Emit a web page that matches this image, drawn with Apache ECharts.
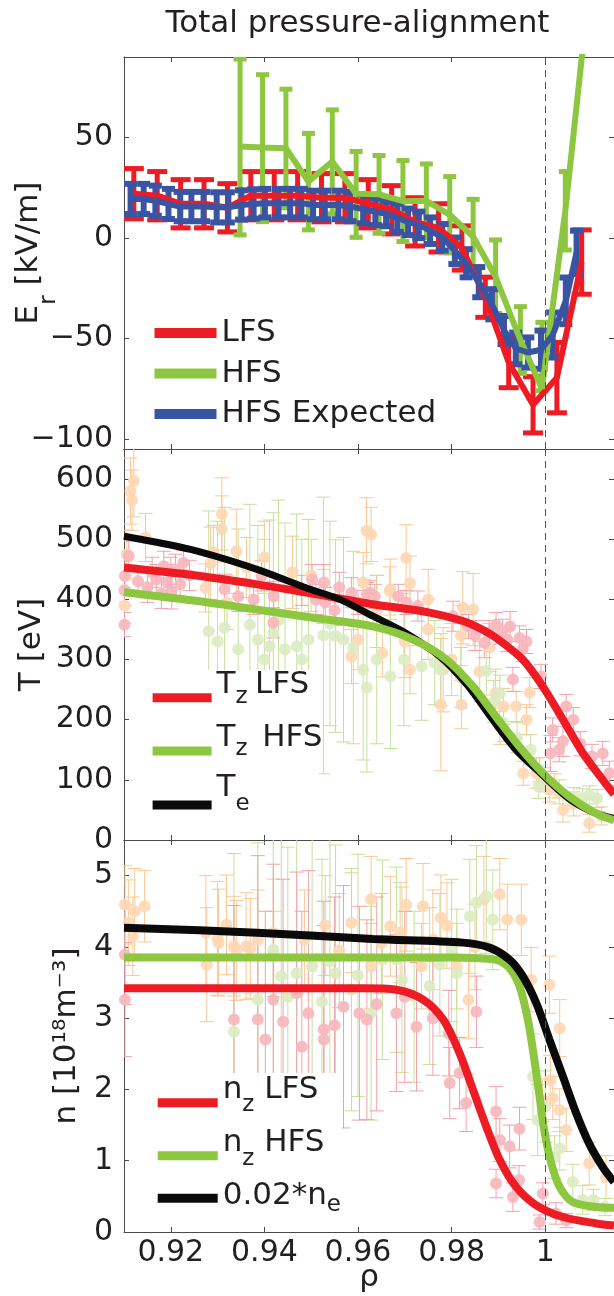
<!DOCTYPE html>
<html>
<head>
<meta charset="utf-8">
<script src="https://cdn.jsdelivr.net/npm/echarts@6/dist/echarts.min.js"></script>
<style>
  html, body { margin: 0; padding: 0; background: #fff; }
  #chart { width: 614px; height: 1296px; }
</style>
</head>
<body>
<div id="chart"></div>
<script>
// ---- axes ----
const rhoTicks = [0.92, 0.94, 0.96, 0.98, 1];
const erTicks = [-100, -50, 0, 50];
const tTicks = [0, 100, 200, 300, 400, 500, 600];
const nTicks = [0, 1, 2, 3, 4, 5];

// ---- panel 1: Er [kV/m] ----
const erLfsRho = [0.9121, 0.9171, 0.9221, 0.9271, 0.9321, 0.9371, 0.9421, 0.9471, 0.9522, 0.9572,
  0.9622, 0.9672, 0.9722, 0.9772, 0.9822, 0.9872, 0.9922, 0.9974, 1.0025, 1.0078];
const erLfs = [22, 21, 17, 17, 15, 21, 21, 21, 20, 20, 17, 14, 8, 5, -5, -29.5, -62, -83, -69.5, -12];
const erLfsErr = [12.5, 12, 12, 12, 12, 12, 12, 12, 12, 12, 12, 12, 12, 12, 11, 10, 12.5, 14, 17.5, 16];

const erHfsRho = [0.9348, 0.9396, 0.9446, 0.9494, 0.9545, 0.9596, 0.9645, 0.9696, 0.9746, 0.9796,
  0.9846, 0.9894, 0.9947, 0.9993, 1.0043, 1.0093];
const erHfs = [45.5, 45, 44.6, 28, 38, 22, 21.7, 18.3, 18.5, 11.5, 0.6, -19.3, -50.8, -75, 13.6, 122];
const erHfsLow = [1.5, 8.1, 15, 4, 12, 0.3, 2.3, -1.8, 0.2, -7.5, -18, -37.6, -67.4, -76, -6, 100];
const erHfsHigh = [89, 81.2, 74, 52, 63.7, 43, 41, 38.5, 36.8, 30.5, 19.2, -1, -34.2, -42, 33, 144];

const erExpRho = [0.9114, 0.9142, 0.9167, 0.9195, 0.9220, 0.9244, 0.9270, 0.9298, 0.9323, 0.9351,
  0.9377, 0.9401, 0.9430, 0.9455, 0.9479, 0.9504, 0.9529, 0.9558, 0.9583, 0.9611,
  0.9637, 0.9660, 0.9684, 0.9707, 0.9730, 0.9754, 0.9780, 0.9807, 0.9831, 0.9858,
  0.9886, 0.9912, 0.9937, 0.9963, 0.9991, 1.0016, 1.0044, 1.0067];
const erExp = [19.4, 19.4, 18.5, 16.9, 15.6, 15.6, 15.6, 15.2, 15.2, 16.4,
  16.9, 17.3, 17.3, 17.3, 17.3, 16.4, 16.4, 16.4, 15.6, 14.4,
  13, 12, 10, 8, 6.5, 3.6, 0.3, -6.4, -12.6, -22,
  -33, -45.8, -55, -57, -55.6, -48.3, -31.3, -7.2];
const erExpErr = [7.5, 7.5, 7.5, 7.5, 7.3, 7.3, 7.3, 7.5, 7.5, 7.3,
  7.3, 7.1, 7.1, 7.1, 7.1, 7.1, 7.1, 7.1, 7.3, 7.1,
  6.6, 6.2, 7, 6.6, 6.6, 6.6, 6.6, 6.6, 7, 7.5,
  7.5, 7, 7.9, 7.5, 9.5, 11.2, 11.6, 10.8];

// ---- panel 2: T [eV] fits ----
const tzLfsRho = [0.9100, 0.9250, 0.9384, 0.9500, 0.9632, 0.9753, 0.9824, 0.9860, 0.9895, 0.9952, 0.9995, 1.0038, 1.0080, 1.0123, 1.0147];
const tzLfs = [453, 440, 425, 410, 392, 378, 364, 352, 336, 300, 255, 200, 145, 100, 76];
const tzHfsRho = [0.9100, 0.9250, 0.9384, 0.9500, 0.9632, 0.9718, 0.9789, 0.9846, 0.9895, 0.9945, 0.9995, 1.0052, 1.0109, 1.0147];
const tzHfs = [412, 398, 383, 370, 355, 333, 300, 255, 205, 155, 111, 72, 44, 33];
const teRho = [0.9100, 0.9242, 0.9384, 0.9490, 0.9561, 0.9632, 0.9700, 0.9775, 0.9833, 0.9883, 0.9935, 0.9990, 1.0052, 1.0109, 1.0147];
const te = [505, 483, 450, 419, 400, 372, 345, 305, 258, 205, 152, 111, 68, 44, 36];

// panel 2 measurements [rho, T, err]
const tzLfsPts = [[0.9101, 358, 20], [0.9101, 415, 25], [0.9110, 472, 25], [0.9102, 439, 25], [0.9130, 430, 20],
  [0.9150, 420, 25], [0.9160, 445, 25], [0.9169, 433, 25], [0.9180, 410, 25], [0.9185, 455, 25],
  [0.9193, 428, 30], [0.9210, 450, 25], [0.9220, 425, 25], [0.9227, 461, 20], [0.9202, 414, 30],
  [0.9200, 445, 25], [0.9240, 440, 25], [0.9315, 417, 25], [0.9344, 405, 25], [0.9377, 400, 25],
  [0.9419, 361, 25], [0.9394, 439, 25], [0.9420, 405, 25], [0.9480, 415, 25], [0.9502, 433, 25],
  [0.9510, 400, 25], [0.9527, 428, 30], [0.9530, 395, 25], [0.9550, 382, 25], [0.9560, 420, 25],
  [0.9586, 411, 25], [0.9600, 395, 20], [0.9619, 408, 20], [0.9626, 411, 20], [0.9636, 405, 20],
  [0.9686, 405, 20], [0.9703, 395, 20], [0.9728, 389, 25], [0.9803, 372, 25], [0.9836, 355, 20],
  [0.9850, 340, 25], [0.9870, 328, 25], [0.9880, 345, 20], [0.9895, 358, 20], [0.9909, 347, 20],
  [0.9919, 333, 20], [0.9925, 355, 25], [0.9945, 336, 20], [0.9952, 317, 20], [0.9960, 330, 20],
  [0.9931, 267, 20], [0.9991, 272, 20], [1.0045, 222, 20], [1.0016, 183, 20], [1.0038, 164, 25],
  [1.0011, 144, 30], [1.0030, 150, 20], [1.0060, 200, 20], [1.0075, 160, 20], [1.0100, 139, 20],
  [1.0123, 144, 20], [1.0137, 111, 20]];
const tzHfsPts = [[0.9281, 347, 200], [0.9300, 330, 200], [0.9315, 353, 200], [0.9344, 317, 200], [0.9369, 358, 200],
  [0.9386, 333, 190], [0.9400, 300, 200], [0.9411, 322, 210], [0.9419, 344, 200], [0.9430, 365, 200],
  [0.9444, 317, 210], [0.9469, 322, 220], [0.9480, 300, 200], [0.9494, 333, 200], [0.9526, 340, 230],
  [0.9540, 360, 170], [0.9552, 339, 160], [0.9569, 333, 170], [0.9590, 320, 160], [0.9611, 283, 150],
  [0.9619, 253, 140], [0.9640, 300, 140], [0.9669, 272, 120], [0.9698, 300, 110], [0.9736, 289, 90],
  [0.9764, 295, 70], [0.9777, 283, 60], [0.9820, 270, 50], [0.9874, 281, 40], [0.9890, 230, 35],
  [0.9903, 244, 30], [0.9911, 194, 30], [0.9940, 170, 25], [0.9969, 150, 25], [0.9988, 117, 20],
  [0.9986, 89, 20], [1.0000, 100, 20], [1.0030, 80, 20], [1.0061, 72, 15], [1.0080, 70, 15],
  [1.0095, 75, 15], [1.0111, 69, 15]];
const tePts = [[0.9121, 597, 60], [0.9114, 580, 55], [0.9117, 565, 50], [0.9146, 503, 40], [0.9106, 475, 40],
  [0.9101, 390, 30], [0.9309, 542, 60], [0.9309, 517, 55], [0.9291, 478, 45], [0.9285, 460, 60],
  [0.9274, 419, 40], [0.9320, 395, 45], [0.9340, 480, 70], [0.9362, 453, 50], [0.9400, 470, 60],
  [0.9460, 445, 60], [0.9500, 440, 60], [0.9618, 514, 55], [0.9611, 428, 50], [0.9600, 333, 50],
  [0.9526, 405, 45], [0.9628, 508, 45], [0.9640, 380, 60], [0.9703, 469, 55], [0.9711, 427, 45],
  [0.9668, 414, 40], [0.9652, 311, 40], [0.9586, 305, 45], [0.9669, 417, 50], [0.9700, 330, 60],
  [0.9777, 225, 110], [0.9821, 225, 40], [0.9824, 386, 60], [0.9846, 383, 60], [0.9711, 283, 40],
  [0.9782, 283, 70], [0.9750, 400, 50], [0.9750, 350, 50], [0.9800, 300, 60], [0.9820, 340, 50],
  [0.9860, 280, 50], [0.9881, 320, 40], [0.9894, 244, 40], [0.9911, 222, 30], [0.9938, 222, 25],
  [0.9967, 245, 25], [0.9903, 189, 30], [0.9960, 200, 25], [0.9953, 111, 20], [0.9981, 111, 25],
  [1.0009, 83, 20], [1.0020, 90, 20], [1.0038, 50, 20], [1.0060, 60, 20], [1.0094, 28, 15],
  [1.0120, 40, 15]];

// ---- panel 3: n [1e18 m^-3] fits ----
const nzLfsRho = [0.9100, 0.9400, 0.9611, 0.9682, 0.9739, 0.9782, 0.9817, 0.9846, 0.9874, 0.9903, 0.9938, 0.9981, 1.0038, 1.0109, 1.0147];
const nzLfs = [3.42, 3.42, 3.42, 3.40, 3.26, 2.98, 2.51, 1.99, 1.48, 1.01, 0.63, 0.375, 0.21, 0.12, 0.09];
const nzHfsRho = [0.9100, 0.9400, 0.9632, 0.9800, 0.9860, 0.9895, 0.9924, 0.9945, 0.9963, 0.9977, 0.9988, 0.9998, 1.0013, 1.0031, 1.0059, 1.0109, 1.0147];
const nzHfs = [3.85, 3.85, 3.85, 3.85, 3.84, 3.82, 3.70, 3.45, 2.98, 2.41, 1.90, 1.43, 0.96, 0.63, 0.42, 0.35, 0.34];
const neRho = [0.9100, 0.9384, 0.9632, 0.9824, 0.9881, 0.9924, 0.9952, 0.9981, 1.0009, 1.0038, 1.0066, 1.0094, 1.0123, 1.0147];
const ne = [4.27, 4.20, 4.11, 4.06, 3.99, 3.82, 3.59, 3.21, 2.70, 2.18, 1.67, 1.24, 0.91, 0.70];

// panel 3 measurements [rho, n, err]
const nzLfsPts = [[0.9102, 3.26, 0.8], [0.9102, 3.89, 0.7], [0.9335, 2.98, 1.6], [0.9386, 2.98, 2.3], [0.9402, 2.70, 1.8],
  [0.9419, 3.26, 1.9], [0.9440, 2.95, 2.0], [0.9469, 3.35, 1.7], [0.9480, 2.60, 1.9], [0.9494, 3.07, 2.0],
  [0.9527, 2.84, 1.8], [0.9527, 2.70, 1.6], [0.9550, 2.90, 1.8], [0.9569, 3.16, 1.7], [0.9603, 3.07, 1.5],
  [0.9619, 2.98, 1.4], [0.9640, 3.20, 1.5], [0.9682, 3.07, 1.1], [0.9700, 3.30, 1.2], [0.9725, 2.88, 0.9],
  [0.9760, 3.00, 0.8], [0.9794, 2.79, 0.6], [0.9796, 2.09, 0.5], [0.9817, 2.23, 0.5], [0.9831, 1.81, 0.4],
  [0.9853, 3.09, 0.5], [0.9895, 1.69, 0.35], [0.9903, 1.29, 0.3], [0.9924, 1.20, 0.3], [0.9945, 1.45, 0.3],
  [0.9895, 0.68, 0.2], [0.9931, 0.49, 0.2], [0.9944, 0.73, 0.2], [0.9995, 0.54, 0.15], [0.9988, 0.14, 0.1],
  [1.0023, 0.26, 0.15], [1.0045, 0.16, 0.1]];
const nzHfsPts = [[0.9335, 2.81, 2.5], [0.9386, 3.26, 2.2], [0.9419, 3.96, 1.8], [0.9436, 3.59, 2.0], [0.9450, 3.30, 2.1],
  [0.9469, 3.63, 2.0], [0.9502, 3.73, 1.9], [0.9523, 3.23, 2.0], [0.9540, 3.80, 1.9], [0.9552, 3.63, 1.8],
  [0.9586, 3.40, 1.7], [0.9600, 3.60, 1.7], [0.9628, 3.07, 1.5], [0.9652, 3.82, 1.4], [0.9682, 3.82, 1.3],
  [0.9694, 3.54, 1.3], [0.9720, 3.30, 1.2], [0.9753, 3.45, 1.1], [0.9775, 3.75, 1.0], [0.9800, 3.95, 1.0],
  [0.9811, 3.63, 0.9], [0.9839, 4.43, 0.8], [0.9853, 4.62, 0.8], [0.9874, 4.71, 0.8], [0.9888, 4.38, 0.7],
  [0.9974, 2.18, 0.6], [0.9984, 1.57, 0.5], [1.0000, 1.76, 0.5], [1.0031, 1.17, 0.3], [1.0020, 1.05, 0.3],
  [1.0059, 0.70, 0.25], [1.0080, 0.45, 0.2], [1.0103, 0.45, 0.15], [1.0128, 0.35, 0.12]];
const nePts = [[0.9102, 4.59, 0.55], [0.9123, 4.50, 0.6], [0.9144, 4.57, 0.5], [0.9110, 4.34, 0.6], [0.9119, 4.15, 0.55],
  [0.9275, 4.20, 0.8], [0.9277, 3.75, 0.8], [0.9300, 4.12, 0.8], [0.9302, 4.06, 0.75], [0.9335, 4.01, 0.7],
  [0.9340, 3.95, 0.7], [0.9361, 4.01, 0.75], [0.9370, 3.98, 0.7], [0.9319, 4.31, 0.7], [0.9386, 4.10, 0.7],
  [0.9419, 4.20, 0.75], [0.9420, 3.90, 0.6], [0.9486, 4.10, 0.7], [0.9530, 4.30, 0.7], [0.9560, 3.95, 0.8],
  [0.9586, 4.34, 0.7], [0.9628, 4.67, 0.6], [0.9628, 3.73, 0.6], [0.9650, 4.05, 0.7], [0.9669, 4.29, 0.7],
  [0.9690, 4.20, 0.7], [0.9703, 4.59, 0.65], [0.9739, 4.57, 0.6], [0.9736, 3.73, 0.6], [0.9760, 4.10, 0.7],
  [0.9777, 4.41, 0.6], [0.9790, 4.30, 0.6], [0.9811, 3.73, 0.6], [0.9836, 3.26, 0.55], [0.9850, 4.00, 0.6],
  [0.9869, 4.67, 0.6], [0.9903, 4.74, 0.5], [0.9919, 4.38, 0.5], [0.9949, 4.38, 0.5], [0.9970, 3.54, 0.45],
  [1.0009, 3.47, 0.4], [1.0031, 2.86, 0.4], [1.0011, 2.13, 0.35], [0.9994, 1.85, 0.3], [1.0016, 1.88, 0.3],
  [1.0031, 1.71, 0.3], [1.0045, 1.43, 0.3], [1.0094, 0.96, 0.3], [1.0130, 0.77, 0.3]];

// ---- style ----
const FONT = 'DejaVu Sans';
const TXT = '#231f20';
const AX = '#4a4a4a';
const RED = '#ed1c24', GREEN = '#8dc63f', BLUE = '#3a54a4', BLACK = '#0a0a0a';
const PINK = '#f7b6bd', PINK_BAR = '#f2a0a8';
const PALEGREEN = '#dcebc2', PALEGREEN_BAR = '#c6e09a';
const PEACH = '#fdd7b4', PEACH_BAR = '#fbc792';
const rhoMin = 0.91, rhoMax = 1.0147;

const chart = echarts.init(document.getElementById('chart'));

function pairs(xs, ys) { return xs.map((x, i) => [x, ys[i]]); }
function spans(xs, ys, err) { return xs.map((x, i) => [x, ys[i] - err[i], ys[i] + err[i]]); }

function errBars(name, data, gi, color, lw, cap) {
  return {
    type: 'custom', name: name, xAxisIndex: 2 * gi, yAxisIndex: 2 * gi,
    silent: true, clip: true, data: data, encode: { x: 0, y: [1, 2] },
    renderItem: function (params, api) {
      const x = api.value(0);
      const lo = api.coord([x, api.value(1)]);
      const hi = api.coord([x, api.value(2)]);
      const hw = cap / 2;
      const st = { stroke: color, lineWidth: lw };
      return {
        type: 'group',
        children: [
          { type: 'line', shape: { x1: lo[0], y1: lo[1], x2: hi[0], y2: hi[1] }, style: st },
          { type: 'line', shape: { x1: lo[0] - hw, y1: lo[1], x2: lo[0] + hw, y2: lo[1] }, style: st },
          { type: 'line', shape: { x1: hi[0] - hw, y1: hi[1], x2: hi[0] + hw, y2: hi[1] }, style: st }
        ]
      };
    }
  };
}

function lineSeries(name, data, gi, color, width, smooth) {
  return {
    type: 'line', name: name, xAxisIndex: 2 * gi, yAxisIndex: 2 * gi,
    data: data, showSymbol: false, symbol: 'none', silent: true,
    smooth: smooth ? 0.3 : false,
    lineStyle: { color: color, width: width },
    itemStyle: { color: color }
  };
}

function measured(name, pts, gi, color, barColor) {
  return [
    errBars(name + ' err', pts.map(p => [p[0], p[1] - p[2], p[1] + p[2]]), gi, barColor, 1, 14),
    {
      type: 'scatter', name: name, xAxisIndex: 2 * gi, yAxisIndex: 2 * gi, silent: true,
      data: pts.map(p => [p[0], p[1]]), symbol: 'circle', symbolSize: 12,
      itemStyle: { color: color, opacity: 0.9 }
    }
  ];
}

function dashAtOne(gi) {
  return {
    type: 'line', name: 'sep' + gi, xAxisIndex: 2 * gi, yAxisIndex: 2 * gi, data: [], z: 40,
    markLine: {
      silent: true, symbol: ['none', 'none'], label: { show: false },
      lineStyle: { type: [7, 5], color: '#555', width: 1 },
      data: [{ xAxis: 1 }]
    }
  };
}

const grids = [
  { left: 124, right: -1, top: 57, height: 392 },
  { left: 124, right: -1, top: 449, height: 391 },
  { left: 124, right: -1, top: 840, height: 392 }
];

const xAxes = [];
grids.forEach((g, gi) => {
  const base = {
    type: 'value', gridIndex: gi, min: rhoMin, max: rhoMax,
    axisLine: { onZero: false, lineStyle: { color: AX, width: 1 } },
    axisTick: { inside: true, length: 5, customValues: rhoTicks, lineStyle: { color: AX } },
    splitLine: { show: false }
  };
  xAxes.push(Object.assign({}, base, {
    position: 'bottom',
    axisLabel: {
      show: gi === 2, customValues: rhoTicks, margin: 6,
      fontFamily: FONT, fontSize: 30, color: TXT,
      formatter: v => (Math.abs(v - 1) < 1e-9 ? '1' : v.toFixed(2))
    },
    name: gi === 2 ? 'ρ' : '', nameLocation: 'middle', nameGap: 30, nameMoveOverlap: false,
    nameTextStyle: { fontFamily: FONT, fontSize: 31, color: TXT }
  }));
  xAxes.push(Object.assign({}, base, { position: 'top', axisLabel: { show: false } }));
});

function yPair(gi, min, max, ticks, fmt, name, gap, nameStyle) {
  const base = {
    type: 'value', gridIndex: gi, min: min, max: max,
    axisLine: { show: true, onZero: false, lineStyle: { color: AX, width: 1 } },
    axisTick: { show: true, inside: true, length: 5, customValues: ticks, lineStyle: { color: AX } },
    splitLine: { show: false }
  };
  return [
    Object.assign({}, base, {
      position: 'left',
      axisLabel: { customValues: ticks, formatter: fmt, margin: 11, fontFamily: FONT, fontSize: 30, color: TXT },
      name: name, nameLocation: 'middle', nameRotate: 90, nameGap: gap, nameMoveOverlap: false,
      nameTextStyle: nameStyle
    }),
    Object.assign({}, base, { position: 'right', axisLabel: { show: false } })
  ];
}

const minusFmt = v => (v < 0 ? '\u2212' + Math.abs(v) : String(v));
const yAxes = [].concat(
  yPair(0, -105, 90, erTicks, minusFmt, '{m|E}{s|r}{m| [kV/m]}', 70.5, {
    fontFamily: FONT, fontSize: 31, color: TXT,
    rich: {
      m: { fontFamily: FONT, fontSize: 31, color: TXT, lineHeight: 40, verticalAlign: 'top' },
      s: { fontFamily: FONT, fontSize: 23, color: TXT, lineHeight: 1, verticalAlign: 'top', padding: [24, 0, 0, 0] }
    }
  }),
  yPair(1, 0, 650, tTicks, v => String(v), 'T [eV]', 77, {
    fontFamily: FONT, fontSize: 31, color: TXT, lineHeight: 31
  }),
  yPair(2, 0, 5.5, nTicks, v => String(v), 'n [10\u00b9\u2078m\u207b\u00b3]', 41.5, {
    fontFamily: FONT, fontSize: 31, color: TXT, lineHeight: 31
  })
);

// one legend entry with a sub-scripted label; a = main text offset, s = subscript offset
function legendItem(name, label, left, iconY, a, s, iconW) {
  const H = 31 - 2 * a;
  return {
    data: [name], left: left, top: iconY - H / 2, orient: 'vertical', padding: 0,
    itemWidth: iconW, itemHeight: 9, icon: 'rect', selectedMode: false, z: 60,
    formatter: () => label,
    textStyle: {
      fontFamily: FONT, fontSize: 31, color: TXT,
      rich: {
        m: { fontFamily: FONT, fontSize: 31, color: TXT, lineHeight: H, verticalAlign: 'top' },
        s: { fontFamily: FONT, fontSize: 23, color: TXT, lineHeight: 1, verticalAlign: 'top', padding: [s + 4, 0, 0, 0] }
      }
    }
  };
}

const legends = [
  {
    data: ['LFS', 'HFS', 'HFS Expected'], orient: 'vertical', left: 154.5, top: 317.5, padding: 0,
    itemWidth: 62, itemHeight: 10, itemGap: 9.5, icon: 'rect', selectedMode: false, z: 60,
    textStyle: { fontFamily: FONT, fontSize: 31, lineHeight: 31, color: TXT }
  },
  legendItem('Tz LFS', '{m|T}{s|z }{m|LFS}', 152.6, 697.7, -13, 12, 59),
  legendItem('Tz HFS', '{m|T}{s|z  }{m|HFS}', 152.6, 751, -13.5, 11.5, 59),
  legendItem('Te', '{m|T}{s|e}', 152.6, 805, -17, 16.5, 59),
  legendItem('nz LFS', '{m|n}{s|z}{m| LFS}', 157.7, 1102.7, -12.7, 15.5, 60),
  legendItem('nz HFS', '{m|n}{s|z}{m| HFS}', 157.7, 1155.7, -12.7, 16, 60),
  legendItem('0.02*ne', '{m|0.02*n}{s|e}', 157.7, 1198.3, -2.3, 9.5, 60)
];

const series = [].concat(
  // panel 1
  errBars('LFS err', spans(erLfsRho, erLfs, erLfsErr), 0, RED, 5, 20),
  lineSeries('LFS', pairs(erLfsRho, erLfs), 0, RED, 6, false),
  errBars('HFS err', erHfsRho.map((r, i) => [r, erHfsLow[i], erHfsHigh[i]]), 0, GREEN, 5, 13),
  lineSeries('HFS', pairs(erHfsRho, erHfs), 0, GREEN, 6, false),
  errBars('HFS Expected err', spans(erExpRho, erExp, erExpErr), 0, BLUE, 6, 13),
  lineSeries('HFS Expected', pairs(erExpRho, erExp), 0, BLUE, 6, false),
  dashAtOne(0),
  // panel 2
  measured('Te data', tePts, 1, PEACH, PEACH_BAR),
  measured('Tz HFS data', tzHfsPts, 1, PALEGREEN, PALEGREEN_BAR),
  measured('Tz LFS data', tzLfsPts, 1, PINK, PINK_BAR),
  lineSeries('Tz LFS', pairs(tzLfsRho, tzLfs), 1, RED, 8, true),
  lineSeries('Te', pairs(teRho, te), 1, BLACK, 7, true),
  lineSeries('Tz HFS', pairs(tzHfsRho, tzHfs), 1, GREEN, 8, true),
  dashAtOne(1),
  // panel 3
  measured('ne data', nePts, 2, PEACH, PEACH_BAR),
  measured('nz HFS data', nzHfsPts, 2, PALEGREEN, PALEGREEN_BAR),
  measured('nz LFS data', nzLfsPts, 2, PINK, PINK_BAR),
  lineSeries('nz LFS', pairs(nzLfsRho, nzLfs), 2, RED, 8, true),
  lineSeries('nz HFS', pairs(nzHfsRho, nzHfs), 2, GREEN, 8, true),
  lineSeries('0.02*ne', pairs(neRho, ne), 2, BLACK, 8, true),
  dashAtOne(2)
);

const option = {
  animation: false,
  backgroundColor: '#fff',
  title: {
    text: 'Total pressure-alignment', left: 165.5, top: 8, padding: 0,
    textStyle: { fontFamily: FONT, fontSize: 31, fontWeight: 'normal', color: TXT }
  },
  grid: grids,
  xAxis: xAxes,
  yAxis: yAxes,
  legend: legends,
  // opaque legend boxes, as in the original figure
  graphic: [
    { type: 'rect', silent: true, z: 50, shape: { x: 130, y: 670, width: 189, height: 164 }, style: { fill: '#fff' } },
    { type: 'rect', silent: true, z: 50, shape: { x: 130, y: 1073, width: 212, height: 152 }, style: { fill: '#fff' } }
  ],
  series: series
};

chart.setOption(option);
</script>
</body>
</html>
